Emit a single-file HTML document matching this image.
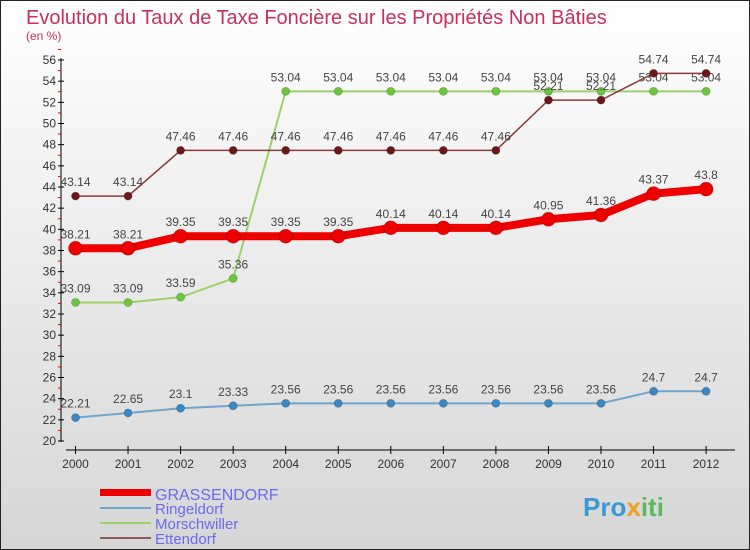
<!DOCTYPE html>
<html><head><meta charset="utf-8"><style>
body{margin:0;}
#wrap{position:relative;width:750px;height:550px;box-sizing:border-box;border:1px solid #222;background:linear-gradient(#ffffff,#d6d6d6);font-family:"Liberation Sans",sans-serif;overflow:hidden}
</style></head><body>
<div id="wrap">
<svg width="750" height="550" style="position:absolute;left:-1px;top:-1px" id="svg">
<text x="26" y="24" font-size="20" fill="#c8305a">Evolution du Taux de Taxe Foncière sur les Propriétés Non Bâties</text>
<text x="26" y="40" font-size="12" fill="#c8305a">(en %)</text>
<g id="axes"></g><g id="series"></g>
<g>
<rect x="100" y="489" width="51" height="7" fill="#e00"/>
<text x="155" y="500" font-size="16" fill="#6a6af0">GRASSENDORF</text>
<rect x="100" y="507" width="51" height="2" fill="#6fa6cc"/>
<text x="155" y="514" font-size="15" fill="#6a6af0">Ringeldorf</text>
<rect x="100" y="522" width="51" height="2" fill="#9bd06a"/>
<text x="155" y="529" font-size="15" fill="#6a6af0">Morschwiller</text>
<rect x="100" y="537" width="51" height="2" fill="#8b5a5a"/>
<text x="155" y="544" font-size="15" fill="#6a6af0">Ettendorf</text>
</g>
<text x="583" y="516" font-size="26" font-weight="bold" fill="#3a9ad0">Pro<tspan fill="#f0a020">x</tspan><tspan fill="#5cb85c">iti</tspan></text>
</svg>
</div>
<script>
const years=[2000,2001,2002,2003,2004,2005,2006,2007,2008,2009,2010,2011,2012];
const yTicks=[20,22,24,26,28,30,32,34,36,38,40,42,44,46,48,50,52,54,56];
const grassendorf=[38.21,38.21,39.35,39.35,39.35,39.35,40.14,40.14,40.14,40.95,41.36,43.37,43.8];
const ringeldorf=[22.21,22.65,23.1,23.33,23.56,23.56,23.56,23.56,23.56,23.56,23.56,24.7,24.7];
const morschwiller=[33.09,33.09,33.59,35.36,53.04,53.04,53.04,53.04,53.04,53.04,53.04,53.04,53.04];
const ettendorf=[43.14,43.14,47.46,47.46,47.46,47.46,47.46,47.46,47.46,52.21,52.21,54.74,54.74];
const NS="http://www.w3.org/2000/svg";
const X=i=>75.5+i*52.55;
const Y=v=>441-(v-20)*(381/36);
function mk(tag,attrs,parent){const e=document.createElementNS(NS,tag);for(const k in attrs)e.setAttribute(k,attrs[k]);parent.appendChild(e);return e;}
const ax=document.getElementById('axes');
let l=mk('line',{x1:61,y1:58,x2:61,y2:442,stroke:'#000'},ax);


l=mk('line',{x1:66,y1:450,x2:735,y2:450,stroke:'#000'},ax);


yTicks.forEach(v=>{
  mk('line',{x1:58,y1:Y(v),x2:64,y2:Y(v),stroke:'#000'},ax);
  mk('line',{x1:58,y1:Y(v+1),x2:61,y2:Y(v+1),stroke:'#e00'},ax);
  const t=mk('text',{x:56,y:Y(v)+4,'font-size':12,'text-anchor':'end',fill:'#333'},ax);
  t.textContent=v;
  
  
});
years.forEach((yr,i)=>{
  mk('line',{x1:X(i),y1:446,x2:X(i),y2:454,stroke:'#000'},ax);
  const t=mk('text',{x:X(i),y:468,'font-size':12,'text-anchor':'middle',fill:'#333'},ax);
  t.textContent=yr;
  
  
});
const sg=document.getElementById('series');
function series(data,name,color,w,r,dot){
  const g=mk('g',{},sg);
  
  
  const p=mk('polyline',{points:data.map((v,i)=>X(i)+','+Y(v)).join(' '),fill:'none',stroke:color,'stroke-width':w},g);
  
  
  data.forEach((v,i)=>{
    const c=mk('circle',{cx:X(i),cy:Y(v),r:r,fill:dot,stroke:'#0003'},g);
    
    
    const t=mk('text',{x:X(i),y:Y(v)-10,'font-size':12,'text-anchor':'middle',fill:'#444'},g);
    t.textContent=v;
    
    
  });
}
series(ringeldorf,'ringeldorf','#6fa6cc',2,4,'#3a88c4');
series(morschwiller,'morschwiller','#9bd06a',2,4,'#6cc83a');
series(ettendorf,'ettendorf','#8b3a3a',1.5,4,'#6a1818');
series(grassendorf,'grassendorf','#ee0000',8,7,'#ee0000');
</script>
</body></html>
